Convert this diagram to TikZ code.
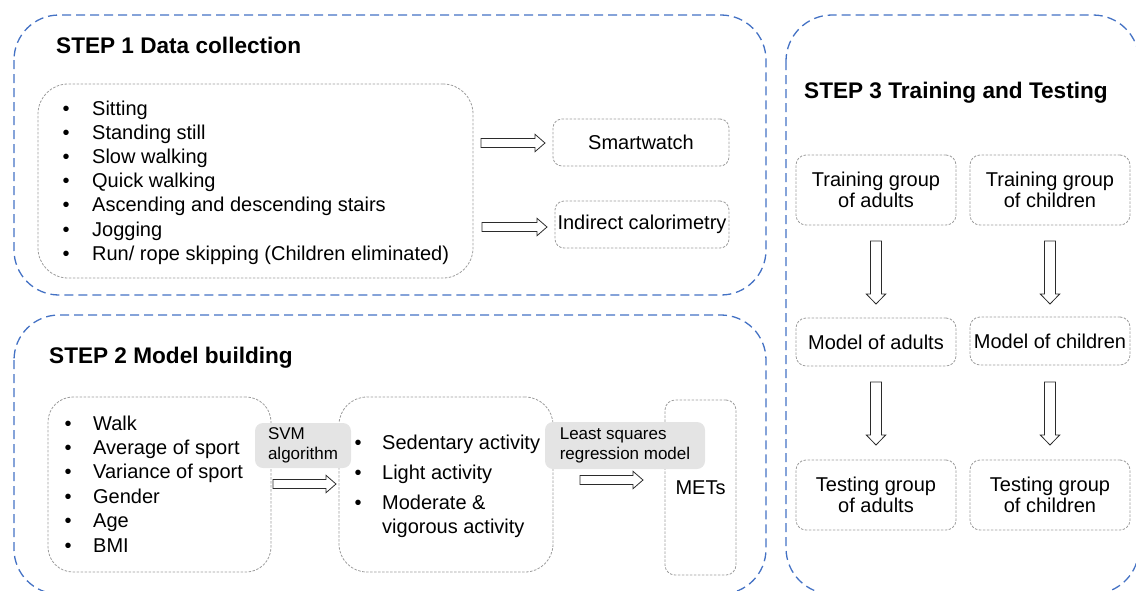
\documentclass[tikz,border=0pt]{standalone}
\usepackage{fontspec}
\setmainfont{Liberation Sans}
\definecolor{stepblue}{HTML}{4472C4}
\definecolor{boxgrey}{HTML}{9C9C9C}
\definecolor{tagfill}{HTML}{E4E4E4}
\definecolor{arrowedge}{HTML}{2B2B2B}
\newcommand\bodyfont{\fontsize{20}{21.5}\selectfont}
\newcommand\titlefont{\bfseries\fontsize{22.6}{27}\selectfont}
\newcommand\tagfont{\fontsize{17}{20}\selectfont}
\tikzset{
  stepbox/.style={draw=stepblue, line width=1.3pt, dash pattern=on 9pt off 5pt, rounded corners=45pt},
  greybox/.style={draw=boxgrey, line width=0.8pt, dash pattern=on 2.5pt off 1.5pt,
    rounded corners=#1, inner sep=0pt, font=\bodyfont, align=center},
  greybox/.default=9pt,
  tagbox/.style={fill=tagfill, rounded corners=8pt, inner sep=0pt, font=\tagfont, align=left},
  steptitle/.style={inner sep=0pt, anchor=base west, font=\titlefont},
  item/.style={inner sep=0pt, anchor=base west, font=\bodyfont},
  arrowline/.style={draw=arrowedge, line width=0.8pt, fill=white, line join=miter},
  pics/blockarr/.style n args={2}{code={
    \draw[arrowline] (0,-#2) -- ({#1-10},-#2) -- ({#1-10},{-#2-4.2}) -- (#1,0)
      -- ({#1-10},{#2+4.2}) -- ({#1-10},#2) -- (0,#2) -- cycle;}}
}
\begin{document}
\begin{tikzpicture}[x=1pt,y=-1pt]
\useasboundingbox (0,0) rectangle (1136,590);
\begin{scope}
\clip (0,0) rectangle (1136,590);
% the three stage frames
\draw[stepbox] (14,15) rectangle (766,295);
\draw[stepbox] (14,315) rectangle (766,594);
\draw[stepbox, rounded corners=46pt] (786,15) rectangle (1139,594);
\end{scope}

% ---------- STEP 1 ----------
\node[steptitle] (t1) at (56,53) {STEP 1 Data collection};
\node[greybox=30pt, minimum width=435pt, minimum height=194pt] (acts) at (255.5,181) {};
\foreach \txt [count=\i] in {Sitting, Standing still, Slow walking, Quick walking,
    Ascending and descending stairs, Jogging, Run/ rope skipping (Children eliminated)}
  \node[item] (a-\i) at (62.5,{115+(\i-1)*24.2}) {\makebox[29.5pt][l]{•}\txt};

\node[greybox, minimum width=176pt, minimum height=47pt] (sw) at (641,142.5) {Smartwatch};
\node[greybox, minimum width=174pt, minimum height=47pt] (ic) at (642,224.5) {Indirect calorimetry};
\coordinate (r1) at (481,143);
\coordinate (r2) at (482,227);
\pic at (r1) {blockarr={64}{4.5}};
\pic at (r2) {blockarr={65}{4.5}};

% ---------- STEP 2 ----------
\node[steptitle] (t2) at (49,363) {STEP 2 Model building};
\node[greybox=25pt, minimum width=223pt, minimum height=175pt] (feat) at (159.5,484.5) {};
\foreach \txt [count=\i] in {Walk, Average of sport, Variance of sport, Gender, Age, BMI}
  \node[item] (f-\i) at (64.5,{430+(\i-1)*24.4}) {\makebox[28.5pt][l]{•}\txt};

\node[greybox=28pt, minimum width=214pt, minimum height=175pt] (lvl) at (446,484.5) {};
\node[item] (l-1) at (354.5,449) {\makebox[27.5pt][l]{•}Sedentary activity};
\node[item] (l-2) at (354.5,479) {\makebox[27.5pt][l]{•}Light activity};
\node[item] (l-3) at (354.5,509) {\makebox[27.5pt][l]{•}Moderate \&};
\node[item] (l-4) at (382,533) {vigorous activity};

\node[greybox=10pt, minimum width=71pt, minimum height=175pt] (mets) at (700.5,487.5) {METs};

\node[tagbox, minimum width=96pt, minimum height=45pt] (svm) at (303,445.5) {SVM\\algorithm};
\node[tagbox, minimum width=160pt, minimum height=47pt] (lsq) at (625,445.5) {Least squares\\regression model};
\coordinate (r3) at (273,484);
\coordinate (r4) at (580,480);
\pic at (r3) {blockarr={63}{4.5}};
\pic at (r4) {blockarr={63}{4.5}};

% ---------- STEP 3 ----------
\node[steptitle] (t3) at (804,98) {STEP 3 Training and Testing};
\node[greybox=10pt, minimum width=160pt, minimum height=70pt] (tra) at (876,190) {Training group\\of adults};
\node[greybox=10pt, minimum width=160pt, minimum height=70pt] (trc) at (1050,190) {Training group\\of children};
\node[greybox=10pt, minimum width=160pt, minimum height=48pt] (moa) at (876,342) {Model of adults};
\node[greybox=10pt, minimum width=160pt, minimum height=48pt] (moc) at (1050,341) {Model of children};
\node[greybox=10pt, minimum width=160pt, minimum height=70pt] (tea) at (876,495) {Testing group\\of adults};
\node[greybox=10pt, minimum width=160pt, minimum height=70pt] (tec) at (1050,495) {Testing group\\of children};

\coordinate (d1) at (876,241);
\coordinate (d2) at (1050,241);
\coordinate (d3) at (876,382);
\coordinate (d4) at (1050,382);
\foreach \c in {d1,d2,d3,d4}
  \pic[rotate=-90] at (\c) {blockarr={63}{5.5}};
\end{tikzpicture}
\end{document}
